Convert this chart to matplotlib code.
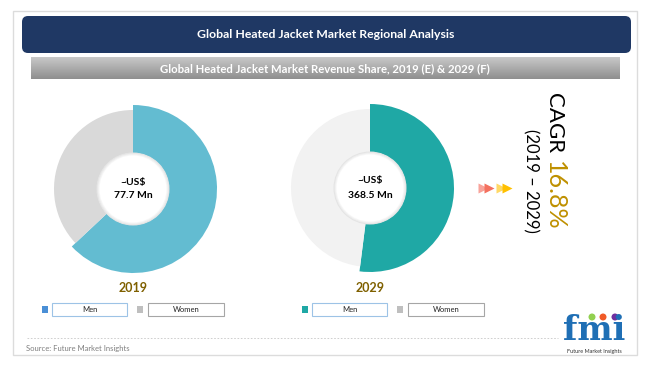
import matplotlib.pyplot as plt
import numpy as np
from matplotlib.colors import LinearSegmentedColormap
from matplotlib.patches import FancyBboxPatch, Rectangle, Circle

# -----------------------------------------------------------------------------
# Data
# -----------------------------------------------------------------------------
years = ["2019", "2029"]
segments = ["Men", "Women"]
men_share = [63, 52]
women_share = [37, 48]
market_size = ["77.7", "368.5"]
cagr_value = "16.8%"
cagr_period = "(2019 \u2013 2029)"

title = "Global Heated Jacket Market Regional Analysis"
subtitle = "Global Heated Jacket Market Revenue Share, 2019 (E) & 2029 (F)"
source = "Source: Future Market Insights"

men_colors = ["#63bcd1", "#1fa8a5"]
men_legend_colors = ["#4a8fd6", "#1fa8a5"]
women_colors = ["#d9d9d9", "#f2f2f2"]

plt.rcParams["font.family"] = ["Lato", "DejaVu Sans"]

W, H = 650, 366
fig = plt.figure(figsize=(W / 100, H / 100), dpi=100)
fig.patch.set_facecolor("white")

# full-figure axes in pixel coordinates
ax = fig.add_axes([0, 0, 1, 1])
ax.set_xlim(0, W)
ax.set_ylim(H, 0)
ax.axis("off")

# outer frame
ax.add_patch(Rectangle((13, 11), 624, 344, fill=False, ec="#dcdcdc", lw=1))

# title banner
ax.add_patch(FancyBboxPatch((22, 16), 609, 37, boxstyle="round,pad=0,rounding_size=6",
                            fc="#1f3864", ec="none"))
ax.text(326, 35, title, color="white", fontsize=8.8, fontweight="bold",
        ha="center", va="center")

# subtitle bar with gradient
grad = np.linspace(0, 1, 50).reshape(-1, 1)
ax.imshow(grad, extent=(31, 620, 79, 57),
          cmap=LinearSegmentedColormap.from_list("g", ["#c8c8c8", "#8f8f8f"]),
          aspect="auto", zorder=1)
ax.text(325, 69, subtitle, color="white", fontsize=8.2, fontweight="bold",
        ha="center", va="center", zorder=2)

# donuts
centers = [(133, 189), (370, 188)]
half = 92
for i, (cx, cy) in enumerate(centers):
    pax = fig.add_axes([(cx - half) / W, 1 - (cy + half) / H, 2 * half / W, 2 * half / H])
    wedges, _ = pax.pie([men_share[i], women_share[i]],
                        colors=[men_colors[i], women_colors[i]],
                        startangle=90, counterclock=False, radius=79,
                        wedgeprops=dict(width=43, linewidth=0))
    wedges[0].set_radius(84)
    wedges[0].set_width(48)
    for r, c in [(36.5, "#e4e4e4"), (35.5, "#eeeeee"), (34.5, "#f6f6f6"), (33.5, "white")]:
        pax.add_patch(Circle((0, 0), r, fc=c, ec="none"))
    pax.set_xlim(-half, half)
    pax.set_ylim(-half, half)
    pax.axis("off")
    pax.text(0, 7, "~US$", ha="center", va="center", fontsize=7.5, fontweight="bold")
    pax.text(0, -7, market_size[i] + " Mn", ha="center", va="center",
             fontsize=7.5, fontweight="bold")

    # year label
    ax.text(cx, 288, years[i], color="#7f6000", fontsize=9, fontweight="bold",
            ha="center", va="center")

# legends
legend_x = [42, 302]
for i, x0 in enumerate(legend_x):
    # men
    ax.add_patch(Rectangle((x0, 306), 6, 7, fc=men_legend_colors[i], ec="none"))
    ax.add_patch(Rectangle((x0 + 10, 303), 75, 13, fc="white", ec="#9dc3e6", lw=0.8))
    ax.text(x0 + 47.5, 309.5, segments[0], fontsize=5.5, ha="center", va="center", color="#222222")
    # women
    ax.add_patch(Rectangle((x0 + 95, 306), 6, 7, fc="#bfbfbf", ec="none"))
    ax.add_patch(Rectangle((x0 + 106, 303), 76, 13, fc="white", ec="#a6a6a6", lw=0.8))
    ax.text(x0 + 144, 309.5, segments[1], fontsize=5.5, ha="center", va="center", color="#222222")

# CAGR
ax.text(554, 93, "CAGR", rotation=-90, fontsize=16, ha="center", va="top", color="black")
ax.text(554, 161, cagr_value, rotation=-90, fontsize=18, ha="center", va="top", color="#bf9000")
ax.text(531, 129, cagr_period, rotation=-90, fontsize=12, ha="center", va="top", color="black")

# chevrons
ax.plot([483], [188], marker=">", ms=7, color="#f8a39a", mec="none")
ax.plot([489], [188], marker=">", ms=7, color="#f4715f", mec="none")
ax.plot([501], [188], marker=">", ms=7, color="#ffd966", mec="none")
ax.plot([507], [188], marker=">", ms=7, color="#ffc000", mec="none")

# footer
ax.plot([27, 558], [338, 338], color="#c8c8c8", lw=0.6, ls=(0, (2, 2)))
ax.text(26, 348, source, fontsize=5.5, color="#7f7f7f", ha="left", va="center")

# fmi logo
ax.text(594, 340, "fmi", fontsize=24, fontweight="bold", family="DejaVu Serif",
        color="#1f6fb5", ha="center", va="baseline")
ax.add_patch(Circle((592, 317), 3.5, fc="#92d050", ec="none"))
ax.add_patch(Circle((603, 317), 3.5, fc="#f05a28", ec="none"))
ax.add_patch(Circle((615, 317), 3.5, fc="#7030a0", ec="none"))
ax.text(594, 351, "Future Market Insights", fontsize=4, color="#333333", ha="center", va="center")

fig.savefig("out.png", dpi=100, facecolor="white")
